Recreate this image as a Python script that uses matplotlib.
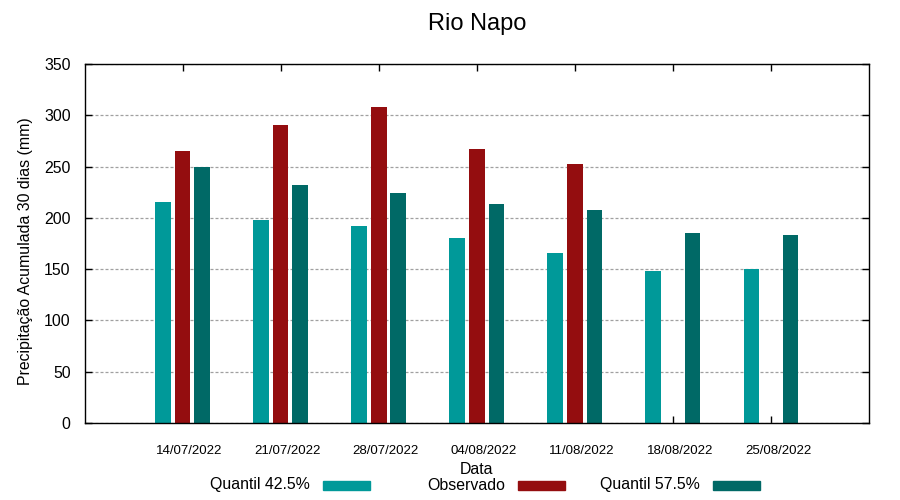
import numpy as np
import matplotlib.pyplot as plt
import matplotlib.transforms as mtransforms
from matplotlib.patches import Rectangle

plt.rcParams['font.family'] = ['Liberation Sans', 'DejaVu Sans']

datas = ['14/07/2022', '21/07/2022', '28/07/2022', '04/08/2022',
         '11/08/2022', '18/08/2022', '25/08/2022']
q425 = [215.5, 198, 192, 180.5, 165.5, 148.5, 150]
observado = [265, 290.5, 308, 267, 252.5, np.nan, np.nan]
q575 = [249.5, 232, 224, 213.5, 207.5, 185, 183.5]

cor_q425 = '#009999'
cor_obs = '#940D0F'
cor_q575 = '#006966'

x = np.arange(1, len(datas) + 1)
w = 0.16

fig = plt.figure(figsize=(9, 5), dpi=100)
ax = fig.add_axes([0.0939, 0.154, 0.8717, 0.718])

ax.bar(x - 0.2, q425, width=w, color=cor_q425)
ax.bar(x, observado, width=w, color=cor_obs)
ax.bar(x + 0.2, q575, width=w, color=cor_q575)

ax.set_xlim(0, 8)
ax.set_ylim(0, 350)
ax.set_xticks(x)
ax.set_xticklabels(datas, fontsize=9.5)
ax.set_yticks(np.arange(0, 351, 50))
ax.tick_params(axis='y', labelsize=11.4)
ax.tick_params(direction='in', length=5, width=1, top=True, right=True)
ax.tick_params(axis='y', pad=10)
ax.tick_params(axis='x', pad=16)
# gnuplot desloca os rotulos do eixo x um pouco para a direita
desloc = mtransforms.ScaledTranslation(7 / 100, 0, fig.dpi_scale_trans)
for lb in ax.get_xticklabels():
    lb.set_transform(lb.get_transform() + desloc)
for s in ax.spines.values():
    s.set_linewidth(1)
ax.yaxis.grid(True, linestyle=(0, (2.4, 1.6)), color='#a0a0a0', linewidth=0.9)
ax.set_axisbelow(True)

fig.text((84.5 + 869) / 2 / 900, 1 - 30 / 500, 'Rio Napo', ha='center', va='baseline', fontsize=17)
ax.set_ylabel('Precipitação Acumulada 30 dias (mm)', fontsize=11.4, va='center')
ax.yaxis.set_label_coords(-0.0758, 0.478)
ax.set_xlabel('Data', fontsize=11.4, va='baseline')
ax.xaxis.set_label_coords(0.5, (423 - 474) / 359)

# legenda embaixo, texto antes da caixa (estilo gnuplot)
nomes = ['Quantil 42.5%', 'Observado', 'Quantil 57.5%']
cores = [cor_q425, cor_obs, cor_q575]
for i, (n, c) in enumerate(zip(nomes, cores)):
    xt = (310 + i * 195) / 900
    fig.text(xt, 1 - 489.5 / 500, n, ha='right', va='baseline', fontsize=11.4)
    fig.patches.append(Rectangle((xt + 13 / 900, 1 - 489.5 / 500), 47 / 900, 8.5 / 500,
                                 transform=fig.transFigure, color=c))

fig.savefig('out.png', dpi=100)
